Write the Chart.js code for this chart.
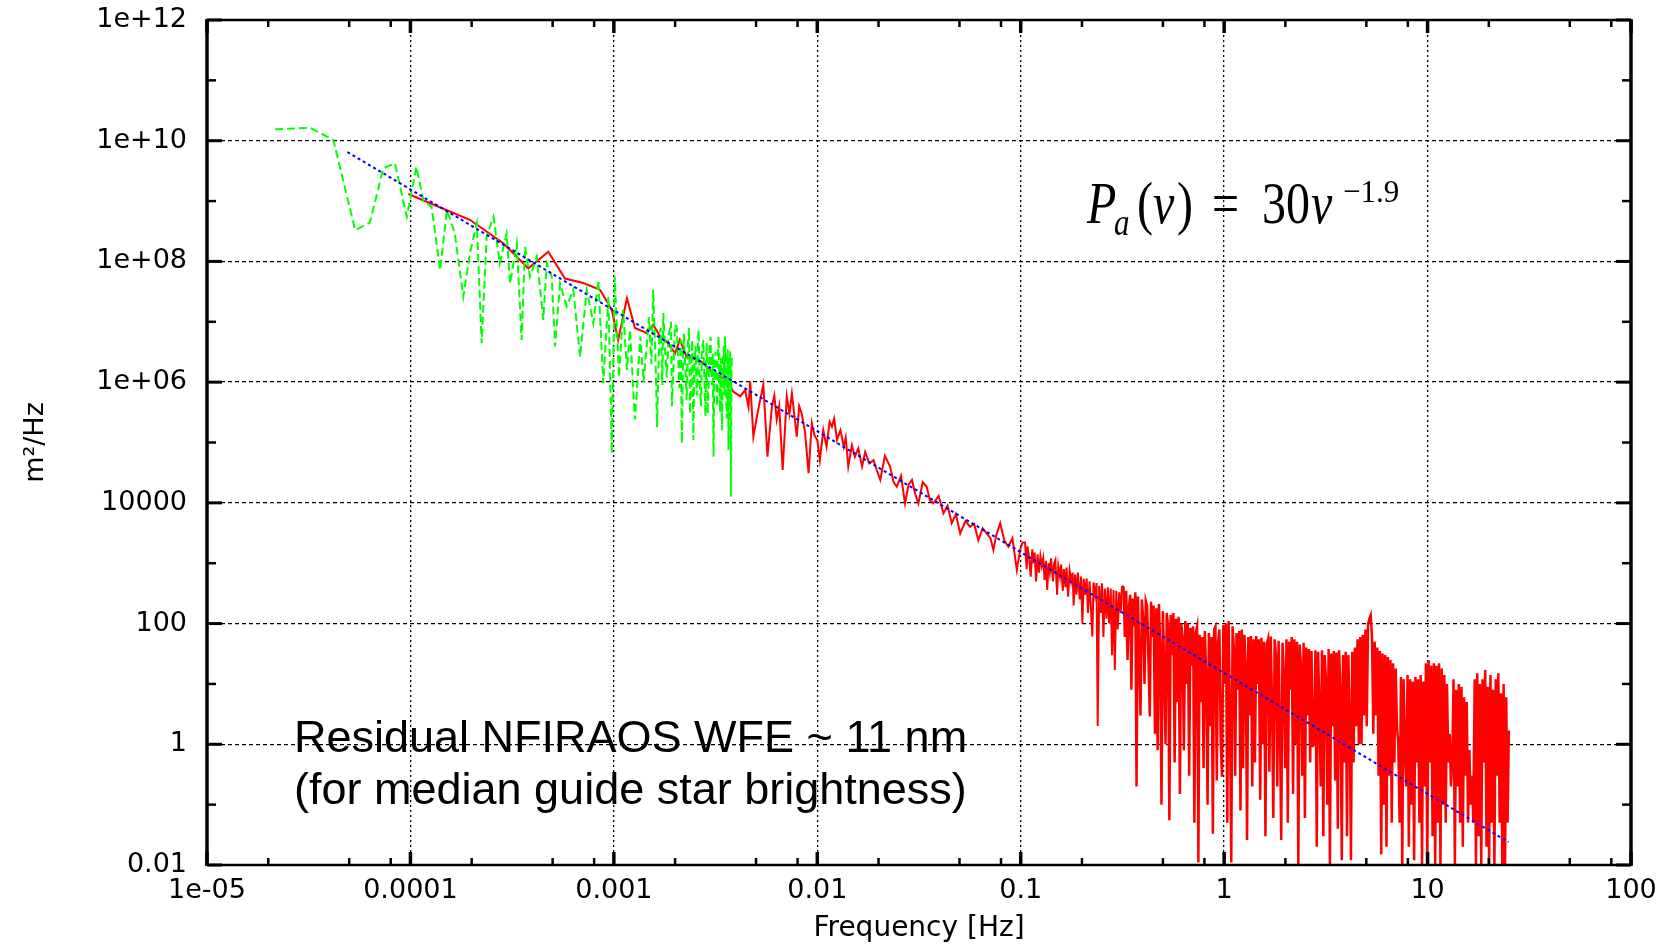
<!DOCTYPE html>
<html><head><meta charset="utf-8">
<script src="https://cdn.jsdelivr.net/npm/chart.js@4.4.1/dist/chart.umd.min.js"></script>
<style>html,body{margin:0;padding:0;background:#fff;}canvas{display:block;}</style>
</head><body>
<canvas id="c" width="1675" height="946" style="width:1675px;height:946px"></canvas>
<script>
// ---- axis ticks ----
const xTickValues = [1e-5, 1e-4, 1e-3, 1e-2, 1e-1, 1, 10, 100];
const xTickLabels = ['1e-05', '0.0001', '0.001', '0.01', '0.1', '1', '10', '100'];
const yTickValues = [1e-2, 1, 1e2, 1e4, 1e6, 1e8, 1e10, 1e12];
const yTickLabels = ['0.01', '1', '100', '10000', '1e+06', '1e+08', '1e+10', '1e+12'];

// ---- fitted power law (blue) ----
const fitFreq = [4.9e-5, 25];
const fitPsd = [6.5e9, 0.024];

// ---- green (dashed) series ----
const greenFreq = [
  2.16e-5, 3.21e-5, 4.18e-5, 5.35e-5, 6.32e-5, 7.36e-5, 8.39e-5, 9.6e-5, 1.07e-4, 1.16e-4,
  1.27e-4, 1.40e-4, 1.51e-4, 1.65e-4, 1.82e-4, 1.96e-4, 2.12e-4, 2.24e-4, 2.37e-4, 2.56e-4,
  2.75e-4, 2.97e-4, 3.09e-4, 3.33e-4, 3.52e-4, 3.66e-4, 3.87e-4, 4.18e-4, 4.50e-4, 4.68e-4,
  4.95e-4, 5.14e-4, 5.44e-4, 5.86e-4, 6.32e-4, 6.82e-4, 7.36e-4, 7.93e-4, 8.39e-4, 8.87e-4,
  9.4e-4, 9.77e-4, 1.01e-3, 1.06e-3, 1.11e-3, 1.16e-3, 1.20e-3, 1.27e-3, 1.35e-3, 1.40e-3,
  1.45e-3, 1.49e-3, 1.53e-3, 1.56e-3, 1.60e-3, 1.63e-3, 1.67e-3, 1.70e-3, 1.73e-3, 1.75e-3,
  1.79e-3, 1.82e-3, 1.86e-3, 1.91e-3, 1.93e-3, 1.96e-3, 2.00e-3, 2.04e-3, 2.07e-3, 2.10e-3,
  2.13e-3, 2.16e-3, 2.19e-3, 2.21e-3, 2.25e-3, 2.28e-3, 2.31e-3, 2.34e-3, 2.37e-3, 2.40e-3,
  2.43e-3, 2.46e-3, 2.49e-3, 2.52e-3, 2.55e-3, 2.57e-3, 2.59e-3, 2.61e-3, 2.64e-3, 2.68e-3,
  2.71e-3, 2.75e-3, 2.78e-3, 2.82e-3, 2.84e-3, 2.86e-3, 2.89e-3, 2.92e-3, 2.95e-3, 2.99e-3,
  3.01e-3, 3.04e-3, 3.06e-3, 3.09e-3, 3.12e-3, 3.16e-3, 3.19e-3, 3.22e-3, 3.25e-3, 3.27e-3,
  3.30e-3, 3.33e-3, 3.36e-3, 3.40e-3, 3.43e-3, 3.47e-3, 3.50e-3, 3.52e-3, 3.55e-3, 3.59e-3,
  3.61e-3, 3.63e-3, 3.65e-3, 3.66e-3, 3.68e-3, 3.70e-3, 3.72e-3, 3.73e-3, 3.75e-3, 3.76e-3,
  3.78e-3, 3.80e-3
];
const greenPsd = [
  1.55e10, 1.64e10, 1.03e10, 3.3e8, 4.4e8, 3.5e9, 4.2e9, 5.5e8, 3.7e9, 1.0e9,
  8.1e8, 7.2e7, 7.1e8, 3.0e8, 2.6e7, 1.36e8, 4.3e8, 4.4e6, 2.6e8, 5.5e8,
  9.3e7, 2.9e8, 4.3e7, 2.0e8, 5.0e6, 1.75e8, 5.6e7, 1.2e8, 1.07e7, 9.3e7,
  5.6e7, 3.9e6, 4.3e7, 1.8e7, 3.4e7, 2.6e6, 3.4e7, 9.4e6, 4.9e7, 9.6e5,
  2.6e7, 6.6e4, 5.6e7, 1.2e6, 1.6e7, 1.6e6, 7.3e6, 2.4e5, 5.7e6, 1.0e6,
  4.0e6, 1.2e7, 2.0e6, 3.4e7, 3.0e6, 1.8e5, 5.0e6, 7.9e6, 9.0e5, 1.4e7,
  3.0e6, 1.2e6, 6.0e6, 1.0e7, 4.0e5, 1.6e6, 9.0e6, 7.9e6, 2.5e6, 8.0e5,
  5.0e6, 9.7e4, 3.0e6, 6.3e6, 1.5e6, 5.0e5, 4.0e6, 7.9e6, 3.0e5, 1.5e6,
  5.0e6, 1.1e5, 2.0e6, 4.0e6, 8.0e5, 6.0e5, 5.0e6, 7.3e6, 1.0e6, 4.0e5,
  3.0e6, 5.0e6, 1.5e6, 2.7e5, 2.0e6, 4.4e6, 3.0e5, 7.9e5, 4.0e6, 5.6e6,
  1.5e6, 9.0e5, 3.0e6, 5.8e4, 2.0e6, 3.2e6, 1.0e6, 4.0e5, 3.5e6, 5.7e6,
  1.2e6, 3.2e5, 2.5e6, 1.6e5, 2.0e6, 4.0e6, 6.0e5, 5.7e6, 1.0e6, 2.5e5,
  2.0e6, 3.5e6, 6.0e5, 7.5e4, 1.5e6, 2.5e6, 4.0e5, 3.4e6, 1.0e6, 1.27e4,
  1.0e6, 2.6e6
];

// ---- red (solid) series, in four frequency bands ----
const redFreqLow = [
  9.77e-5, 1.25e-4, 1.96e-4, 2.86e-4, 3.80e-4, 4.76e-4, 5.75e-4, 7.08e-4, 8.55e-4, 9.77e-4,
  1.05e-3, 1.16e-3, 1.27e-3, 1.45e-3, 1.56e-3, 1.69e-3, 1.82e-3, 2.0e-3, 2.11e-3, 2.28e-3,
  2.65e-3, 3.08e-3, 3.59e-3
];
const redPsdLow = [
  1.31e9, 9.2e8, 4.9e8, 2.0e8, 7.7e7, 1.45e8, 5.2e7, 4.4e7, 3.4e7, 1.57e7,
  5.0e6, 2.45e7, 7.9e6, 6.5e6, 8.9e6, 5.7e6, 4.7e6, 3.0e6, 5.0e6, 2.6e6,
  2.3e6, 1.4e6, 1.09e6
];
const redFreqMid = [
  3.86e-3, 4.18e-3, 4.42e-3, 4.59e-3, 4.68e-3, 4.85e-3, 5.05e-3, 5.2e-3, 5.43e-3, 5.69e-3,
  5.98e-3, 6.15e-3, 6.32e-3, 6.5e-3, 6.76e-3, 7.08e-3, 7.3e-3, 7.5e-3, 7.93e-3, 8.15e-3,
  8.39e-3, 8.7e-3, 9.06e-3, 9.4e-3, 9.7e-3, 1.0e-2, 1.03e-2, 1.07e-2, 1.11e-2, 1.15e-2,
  1.18e-2, 1.21e-2, 1.25e-2, 1.3e-2, 1.35e-2, 1.38e-2, 1.42e-2, 1.48e-2, 1.53e-2, 1.59e-2,
  1.66e-2, 1.72e-2, 1.8e-2, 1.89e-2, 1.96e-2, 2.04e-2, 2.15e-2, 2.28e-2, 2.37e-2, 2.46e-2,
  2.58e-2, 2.7e-2, 2.81e-2, 2.92e-2, 3.03e-2, 3.14e-2, 3.3e-2, 3.45e-2, 3.58e-2, 3.72e-2,
  3.95e-2, 4.17e-2, 4.37e-2, 4.58e-2, 4.8e-2, 5.04e-2, 5.35e-2, 5.64e-2, 5.9e-2, 6.19e-2,
  6.5e-2, 6.81e-2, 7.1e-2, 7.34e-2, 7.6e-2, 7.93e-2, 8.3e-2, 8.69e-2, 9.1e-2, 9.57e-2,
  9.93e-2, 0.102
];
const redPsdMid = [
  7.0e5, 5.8e5, 7.4e5, 3.9e5, 1.02e6, 1.25e5, 2.7e5, 4.5e5, 9.0e5, 5.8e4,
  3.9e5, 6.0e5, 2.4e5, 4.0e5, 3.5e4, 5.8e5, 3.0e5, 6.5e5, 1.25e5, 4.0e5,
  3.0e5, 1.5e5, 3.1e4, 2.1e5, 1.3e5, 1.1e5, 5.1e4, 1.6e5, 8.5e4, 2.2e5,
  1.83e5, 2.5e5, 1.1e5, 1.6e5, 8.5e4, 1.2e5, 4.0e4, 9.0e4, 5.8e4, 8.0e4,
  4.0e4, 7.0e4, 4.5e4, 5.1e4, 3.5e4, 2.4e4, 6.0e4, 4.0e4, 2.2e4, 1.85e4,
  2.8e4, 9.8e3, 2.0e4, 2.4e4, 1.4e4, 9.8e3, 2.2e4, 1.85e4, 1.1e4, 9.8e3,
  1.3e4, 6.7e3, 9.0e3, 4.6e3, 6.5e3, 3.1e3, 5.0e3, 4.0e3, 4.5e3, 2.4e3,
  3.8e3, 3.1e3, 2.6e3, 1.66e3, 3.0e3, 4.6e3, 2.4e3, 1.88e3, 2.6e3, 7.7e2,
  1.66e3, 2.2e3
];
const redFreqKnee = [
  0.105, 0.107, 0.108, 0.110, 0.112, 0.114, 0.115, 0.117, 0.119, 0.121,
  0.123, 0.125, 0.127, 0.129, 0.131, 0.133, 0.135, 0.137, 0.139, 0.141,
  0.144, 0.146, 0.148, 0.151, 0.153, 0.156, 0.158, 0.161, 0.163, 0.166,
  0.168, 0.171, 0.174, 0.177, 0.180, 0.182, 0.185, 0.188, 0.191, 0.195,
  0.198, 0.201, 0.204, 0.207, 0.211, 0.214, 0.218, 0.221, 0.225, 0.228,
  0.232, 0.236, 0.239, 0.243, 0.247, 0.251, 0.255, 0.259, 0.264, 0.268,
  0.272, 0.277, 0.281, 0.286, 0.290, 0.295, 0.300, 0.305, 0.310, 0.315
];
const redPsdKnee = [
  2200, 800, 1900, 1200, 600, 1700, 1000, 1500, 500, 1400,
  700, 1300, 900, 1200, 530, 1100, 360, 1000, 700, 1200,
  500, 1000, 1130, 300, 900, 600, 950, 350, 800, 400,
  850, 280, 750, 500, 700, 200, 650, 300, 700, 250,
  600, 100, 550, 300, 560, 150, 500, 200, 61, 480,
  300, 470, 2, 420, 150, 465, 60, 380, 120, 400,
  100, 380, 30, 360, 17, 350, 80, 330, 150, 420
];
const redFreqHigh = [
  0.320, 0.325, 0.330, 0.335, 0.340, 0.345, 0.350, 0.355, 0.360, 0.366,
  0.371, 0.377, 0.382, 0.388, 0.394, 0.400, 0.406, 0.412, 0.418, 0.424,
  0.431, 0.437, 0.444, 0.450, 0.457, 0.464, 0.471, 0.478, 0.485, 0.492,
  0.500, 0.507, 0.515, 0.522, 0.530, 0.538, 0.546, 0.555, 0.563, 0.571,
  0.580, 0.589, 0.597, 0.606, 0.615, 0.625, 0.634, 0.644, 0.653, 0.663,
  0.673, 0.683, 0.693, 0.704, 0.714, 0.725, 0.736, 0.747, 0.758, 0.769,
  0.781, 0.792, 0.804, 0.816, 0.829, 0.841, 0.854, 0.867, 0.880, 0.893,
  0.906, 0.920, 0.934, 0.948, 0.962, 0.976, 0.991, 1.006, 1.021, 1.036,
  1.052, 1.068, 1.084, 1.100, 1.116, 1.133, 1.150, 1.167, 1.185, 1.203,
  1.221, 1.239, 1.258, 1.277, 1.296, 1.315, 1.335, 1.355, 1.375, 1.396,
  1.417, 1.438, 1.460, 1.481, 1.504, 1.526, 1.549, 1.572, 1.596, 1.620,
  1.644, 1.669, 1.694, 1.719, 1.745, 1.771, 1.798, 1.825, 1.852, 1.880,
  1.908, 1.937, 1.966, 1.995, 2.025, 2.055, 2.086, 2.118, 2.149, 2.182,
  2.214, 2.248, 2.281, 2.316, 2.350, 2.386, 2.421, 2.458, 2.495, 2.532,
  2.570, 2.609, 2.648, 2.688, 2.728, 2.769, 2.810, 2.853, 2.895, 2.939,
  2.983, 3.028, 3.073, 3.119, 3.166, 3.214, 3.262, 3.311, 3.360, 3.411,
  3.462, 3.514, 3.567, 3.620, 3.674, 3.730, 3.786, 3.842, 3.900, 3.958,
  4.018, 4.078, 4.139, 4.201, 4.264, 4.328, 4.393, 4.459, 4.526, 4.594,
  4.663, 4.733, 4.804, 4.876, 4.949, 5.023, 5.098, 5.175, 5.253, 5.331,
  5.411, 5.493, 5.575, 5.659, 5.744, 5.830, 5.917, 6.006, 6.096, 6.188,
  6.281, 6.375, 6.471, 6.568, 6.666, 6.766, 6.868, 6.971, 7.075, 7.182,
  7.289, 7.399, 7.510, 7.622, 7.737, 7.853, 7.971, 8.090, 8.212, 8.335,
  8.460, 8.587, 8.716, 8.846, 8.979, 9.114, 9.251, 9.389, 9.530, 9.673,
  9.818, 9.966, 10.12, 10.27, 10.42, 10.58, 10.74, 10.90, 11.06, 11.23,
  11.39, 11.57, 11.74, 11.92, 12.09, 12.28, 12.46, 12.65, 12.84, 13.03,
  13.22, 13.42, 13.62, 13.83, 14.04, 14.25, 14.46, 14.68, 14.90, 15.12,
  15.35, 15.58, 15.81, 16.05, 16.29, 16.54, 16.78, 17.04, 17.29, 17.55,
  17.82, 18.08, 18.36, 18.63, 18.91, 19.20, 19.48, 19.78, 20.07, 20.37,
  20.68, 20.99, 21.31, 21.63, 21.95, 22.28, 22.61, 22.95, 23.30, 23.65,
  24.00, 24.36, 24.73, 25.10
];
const redPsdHigh = [
  400, 60, 350, 25, 180, 300, 8, 260, 90, 330,
  0.2, 280, 40, 3, 250, 120, 10, 240, 200, 30,
  2.9, 230, 60, 200, 1.5, 180, 0.8, 210, 40, 0.1,
  160, 20, 1, 150, 90, 0.055, 140, 30, 150, 0.5,
  120, 5, 130, 0.15, 100, 60, 0.8, 110, 10, 100,
  0.3, 85, 20, 90, 0.05, 70, 90, 0.011, 65, 5,
  60, 0.4, 75, 15, 0.1, 70, 2, 60, 0.033, 80,
  89, 0.25, 50, 80, 1, 0.29, 95, 10, 100, 0.05,
  110, 3, 0.011, 90, 40, 0.3, 70, 8, 75, 0.08,
  80, 0.4, 65, 20, 0.026, 60, 3, 62, 0.2, 55,
  0.5, 62, 10, 55, 0.12, 58, 1, 50, 0.03, 45,
  55, 0.35, 61, 5, 0.06, 55, 30, 0.2, 52, 2,
  0.026, 48, 15, 0.4, 55, 0.05, 50, 8, 60, 0.15,
  55, 1, 50, 0.01, 45, 20, 0.3, 48, 0.06, 40,
  3, 38, 0.5, 35, 0.9, 1.2, 36, 0.02, 34, 5,
  0.2, 36, 0.03, 30, 12, 0.1, 38, 0.01, 32, 2,
  35, 0.25, 33, 0.04, 36, 8, 0.012, 30, 0.5, 34,
  0.03, 30, 3, 0.012, 34, 0.5, 40, 2, 55, 1,
  60, 1, 65, 3, 80, 2, 100, 120, 138, 60,
  1.5, 50, 3, 40, 0.3, 35, 0.015, 32, 0.1, 30,
  0.02, 28, 0.3, 25, 0.05, 22, 0.5, 18, 2, 1,
  0.05, 13, 0.01, 12, 1, 0.2, 14, 0.02, 12, 0.1,
  11, 0.012, 13, 0.5, 12, 0.05, 14, 0.01, 11, 0.2,
  22, 0.01, 25, 0.5, 20, 0.03, 22, 0.01, 20, 0.05,
  22, 0.01, 18, 0.1, 14, 0.05, 10, 0.5, 1.5, 0.2,
  0.5, 12, 0.01, 8, 0.2, 10, 0.05, 9, 0.02, 6,
  0.3, 5, 0.05, 0.8, 0.1, 0.3, 0.05, 12, 0.01, 15,
  0.03, 10, 0.01, 12, 0.5, 17, 0.02, 9, 0.01, 14,
  0.05, 8, 0.01, 12, 0.3, 15, 0.05, 7, 0.01, 10,
  0.005, 6, 0.05, 1.7
];

function pts(fs, vs) {
  const n = Math.min(fs.length, vs.length), out = [];
  for (let i = 0; i < n; i++) out.push({x: fs[i], y: vs[i]});
  return out;
}
function labelFor(values, labels, v) {
  for (let i = 0; i < values.length; i++) {
    if (Math.abs(Math.log10(v) - Math.log10(values[i])) < 1e-6) return labels[i];
  }
  return '';
}

const tickFont = {family: '"DejaVu Sans", sans-serif', size: 27};

const decor = {
  id: 'decor',
  afterDatasetsDraw(chart) {
    const {ctx, chartArea: a, scales: {x, y}} = chart;
    ctx.save();
    ctx.strokeStyle = '#000';
    ctx.lineCap = 'butt';
    const seg = (x1, y1, x2, y2, w) => {
      ctx.lineWidth = w; ctx.beginPath(); ctx.moveTo(x1, y1); ctx.lineTo(x2, y2); ctx.stroke();
    };
    xTickValues.forEach((v, i) => {
      const p = x.getPixelForValue(v);
      seg(p, a.bottom, p, a.bottom - 13, 3.5);
      seg(p, a.top, p, a.top + 13, 3.5);
      if (i < xTickValues.length - 1) {
        [2, 5, 8].forEach(m => {
          const q = x.getPixelForValue(v * m);
          seg(q, a.bottom, q, a.bottom - 7, 2.5);
          seg(q, a.top, q, a.top + 7, 2.5);
        });
      }
    });
    yTickValues.forEach((v, i) => {
      const p = y.getPixelForValue(v);
      seg(a.left, p, a.left + 15, p, 3);
      seg(a.right, p, a.right - 15, p, 3);
      if (i < yTickValues.length - 1) {
        const q = y.getPixelForValue(v * 10);
        seg(a.left, q, a.left + 9, q, 2.5);
        seg(a.right, q, a.right - 9, q, 2.5);
      }
    });
    seg(a.left, a.top - 1, a.left, a.bottom + 1, 3.5);
    seg(a.right, a.top - 1, a.right, a.bottom + 1, 3.5);
    seg(a.left, a.top, a.right, a.top, 2.5);
    seg(a.left, a.bottom, a.right, a.bottom, 2.5);
    ctx.restore();
  },
  afterDraw(chart) {
    const ctx = chart.ctx;
    ctx.save();
    ctx.fillStyle = '#000';
    ctx.textAlign = 'left';
    ctx.textBaseline = 'alphabetic';
    ctx.font = '45px "Liberation Sans", Arial, sans-serif';
    ctx.fillText('Residual NFIRAOS WFE ~ 11 nm', 294, 752);
    ctx.fillText('(for median guide star brightness)', 294, 804);

    const serif = '"Liberation Serif", "Times New Roman", serif';
    const piece = (t, font, px, py, sy) => {
      ctx.save(); ctx.translate(px, py); ctx.scale(1, sy); ctx.font = font; ctx.fillText(t, 0, 0); ctx.restore();
    };
    piece('P', 'italic 48px ' + serif, 1087, 223, 1.25);
    piece('a', 'italic 31px ' + serif, 1114, 235, 1.25);
    piece('(', '48px ' + serif, 1137, 223, 1.25);
    piece('\u03BD', 'italic 48px ' + serif, 1153, 223, 1.25);
    piece(')', '48px ' + serif, 1177, 223, 1.25);
    piece('=', '48px ' + serif, 1212, 223, 1.25);
    piece('30', '48px ' + serif, 1262, 223, 1.25);
    piece('\u03BD', 'italic 48px ' + serif, 1311, 223, 1.25);
    piece('\u22121.9', '31px ' + serif, 1343, 202, 1.05);
    ctx.restore();
  }
};

const redBand = pts(redFreqLow, redPsdLow).concat(pts(redFreqMid, redPsdMid), pts(redFreqKnee, redPsdKnee));
const redTail = pts(redFreqKnee.slice(-1), redPsdKnee.slice(-1)).concat(pts(redFreqHigh, redPsdHigh));

new Chart(document.getElementById('c'), {
  type: 'scatter',
  data: {
    datasets: [
      {data: pts(fitFreq, fitPsd), showLine: true, borderColor: '#0000ff', borderWidth: 2,
       borderDash: [3, 3], pointRadius: 0, fill: false},
      {data: pts(greenFreq, greenPsd), showLine: true, borderColor: '#00ff00', borderWidth: 2,
       borderDash: [8, 4], pointRadius: 0, fill: false},
      {data: redBand, showLine: true, borderColor: '#ff0000', borderWidth: 2, pointRadius: 0, fill: false},
      {data: redTail, showLine: true, borderColor: '#ff0000', borderWidth: 2.5, pointRadius: 0, fill: false}
    ]
  },
  options: {
    responsive: false,
    animation: false,
    devicePixelRatio: 1,
    layout: {padding: {left: 0, top: 20, right: 44, bottom: 0}},
    plugins: {legend: {display: false}, tooltip: {enabled: false}},
    scales: {
      x: {
        type: 'logarithmic', min: 1e-5, max: 100, position: 'bottom',
        afterBuildTicks: s => { s.ticks = xTickValues.map(v => ({value: v})); },
        afterFit: s => { s.height = 81; s.paddingLeft = 0; s.paddingRight = 0; s.paddingTop = 0; s.paddingBottom = 0; },
        ticks: {autoSkip: false, maxRotation: 0, minRotation: 0, padding: 10, color: '#000', font: tickFont,
                callback: v => labelFor(xTickValues, xTickLabels, v)},
        grid: {color: '#000', lineWidth: 1.3, drawTicks: false},
        border: {display: false, dash: [2, 3]},
        title: {display: true, text: 'Frequency [Hz]', color: '#000',
                font: {family: '"DejaVu Sans", sans-serif', size: 28}, padding: {top: 0, bottom: 0}}
      },
      y: {
        type: 'logarithmic', min: 1e-2, max: 1e12, position: 'left',
        afterBuildTicks: s => { s.ticks = yTickValues.map(v => ({value: v})); },
        afterFit: s => { s.width = 207; s.paddingTop = 0; s.paddingBottom = 0; s.paddingLeft = 0; s.paddingRight = 0; },
        ticks: {autoSkip: false, padding: 20, color: '#000', font: tickFont,
                callback: v => labelFor(yTickValues, yTickLabels, v)},
        grid: {color: '#000', lineWidth: 1.3, drawTicks: false},
        border: {display: false, dash: [4, 3]},
        title: {display: true, text: 'm\u00B2/Hz', color: '#000',
                font: {family: '"DejaVu Sans", sans-serif', size: 27}, padding: {top: 20, bottom: 0}}
      }
    }
  },
  plugins: [decor]
});
</script>
</body></html>
